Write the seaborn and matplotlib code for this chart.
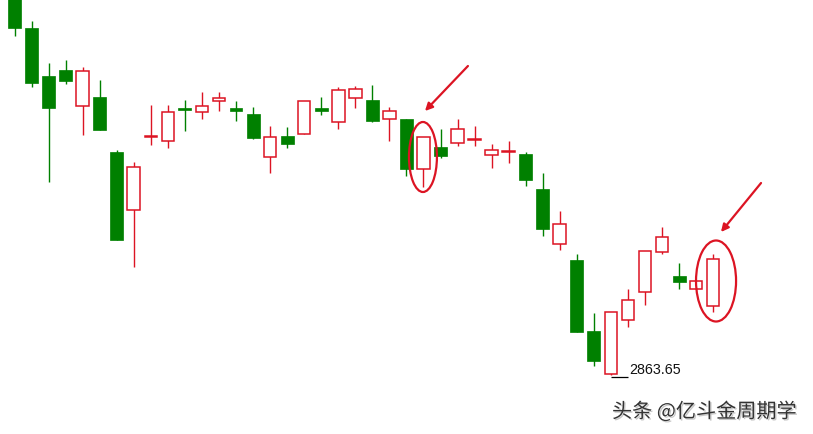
import matplotlib
matplotlib.use("Agg")
import matplotlib.pyplot as plt
from matplotlib.patches import Ellipse
import matplotlib.patheffects as pe
import numpy as np
import seaborn as sns

# daily candles
opens = [3250, 3211, 3163, 3169, 3133, 3142, 3087, 3029, 3102.5, 3098,
         3131, 3127, 3138, 3131, 3125, 3082, 3103, 3105, 3131, 3117,
         3141, 3139, 3120, 3120, 3070, 3092, 3096, 3099.5, 3084, 3087.5,
         3085, 3050, 2995, 2979, 2908, 2865, 2919, 2947, 2987, 2963,
         2950, 2933]
highs = [3254, 3218, 3176, 3179, 3172, 3159, 3089, 3077, 3134, 3134,
         3139, 3147, 3147, 3138, 3132, 3113, 3112, 3138, 3142, 3152,
         3153, 3154, 3132, 3120, 3102, 3110, 3120, 3113, 3095, 3098,
         3087, 3066, 3028, 2985, 2926, 2927, 2950, 2988, 3012, 2976,
         2958, 2985]
lows = [3203, 3152, 3057, 3155, 3104, 3109, 2999, 2972, 3094, 3091,
        3108, 3120, 3128, 3118, 3100, 3066, 3091, 3105, 3124, 3110,
        3131, 3117, 3098, 3063, 3052, 3081, 3093, 3093, 3071, 3076,
        3053, 3003, 2989, 2907, 2873, 2863.65, 2912, 2934, 2985, 2950,
        2950, 2927]
closes = [3211, 3156, 3131, 3158, 3168, 3109, 2999, 3072, 3103.5, 3127,
          3129, 3133, 3141, 3128, 3101, 3102, 3095, 3138, 3128, 3149,
          3150, 3118, 3128, 3070, 3102, 3083, 3110, 3100.5, 3089, 3088.5,
          3059, 3010, 3015, 2907, 2878, 2927, 2939, 2988, 3002, 2957,
          2958, 2980]
low_label = "2863.65"
watermark = "头条 @亿斗金周期学"

sns.set_theme(style="white")
plt.rcParams['font.family'] = ['Noto Sans CJK SC', 'DejaVu Sans']

green = "#008000"
red = "#dc1423"

fig = plt.figure(figsize=(8.13, 4.35), dpi=100)
ax = fig.add_axes([0, 0, 1, 1])

x = np.arange(len(opens))
o = np.array(opens)
c = np.array(closes)
up = c >= o
cols = np.where(up, red, green)

# wicks
ax.vlines(x, lows, highs, colors=cols, linewidth=1.0, zorder=1)
# bodies: hollow red for up days, solid green for down days
bottoms = np.minimum(o, c)
heights = np.abs(c - o)
ax.bar(x[up], heights[up], bottom=bottoms[up], width=0.74,
       facecolor="white", edgecolor=red, linewidth=1.1, zorder=2)
ax.bar(x[~up], heights[~up], bottom=bottoms[~up], width=0.76,
       color=green, edgecolor=green, linewidth=0.5, zorder=2)

# lowest point label
i_low = int(np.argmin(lows))
ax.hlines(lows[i_low] - 1.7, i_low - 0.02, i_low + 1.0, colors="black", linewidth=0.9)
ax.text(i_low + 1.1, lows[i_low] + 6, low_label, fontsize=10.3,
        family=["Liberation Sans"], va="center", ha="left", color="#111111")

# circles and arrows
for cx, cy, w, h in [(23.97, 3082, 1.64, 70), (41.17, 2958, 2.35, 81)]:
    ax.add_patch(Ellipse((cx, cy), w, h, fill=False, edgecolor=red, linewidth=1.6, zorder=3))
for (x0, y0), (x1, y1) in [((26.61, 3173), (24.09, 3128)), ((43.81, 3056), (41.46, 3007))]:
    ax.annotate("", xy=(x1, y1), xytext=(x0, y0),
                arrowprops=dict(arrowstyle="-|>", color=red, lw=1.6, mutation_scale=11,
                                shrinkA=0, shrinkB=0))

ax.set_xlim(-0.851, 46.86)
ax.set_ylim(2805, 3240)
ax.axis("off")

fig.text(612 / 813, 1 - 413 / 435, watermark, fontsize=14.5, color="#333333",
         ha="left", va="center",
         path_effects=[pe.withSimplePatchShadow(offset=(1, -1), shadow_rgbFace="#bbbbbb", alpha=0.8)])

fig.savefig("out.png", dpi=100, facecolor="white")
